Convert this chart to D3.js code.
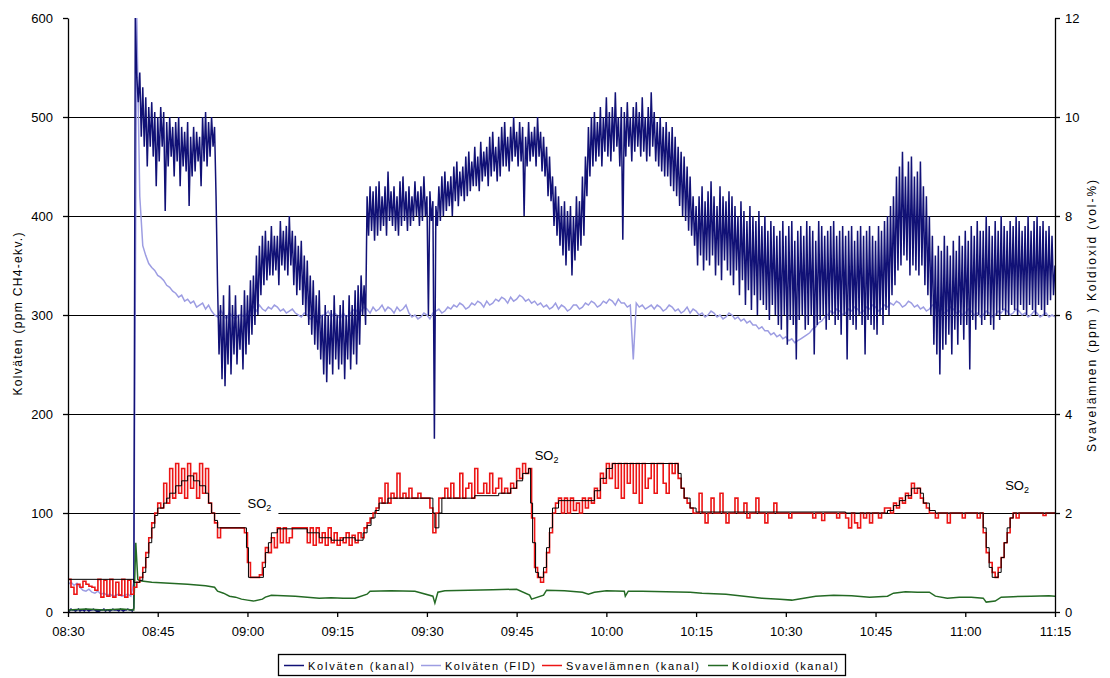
<!DOCTYPE html>
<html>
<head>
<meta charset="utf-8">
<script src="https://cdn.jsdelivr.net/npm/d3@7"></script>
<style>
  body { margin: 0; background: #fff; }
  svg { display: block; font-family: "Liberation Sans", Arial, sans-serif; }
</style>
</head>
<body>
<svg id="chart" width="1110" height="678"></svg>
<script>
// ---- axis ticks and legend ----
const timeTicks = ["08:30","08:45","09:00","09:15","09:30","09:45","10:00","10:15","10:30","10:45","11:00","11:15"];
const leftTicks = [0, 100, 200, 300, 400, 500, 600];
const rightTicks = [0, 2, 4, 6, 8, 10, 12];
const seriesNames = ["Kolväten (kanal)", "Kolväten (FID)", "Svavelämnen (kanal)", "Koldioxid (kanal)"];

// ---- Kolväten (kanal), ppm CH4-ekv., one reading every 15 s from 08:30:00 ----
const hcKanal = [
  // 08:30
  2,1,3,2, 2,1,2,3, 1,2,2,1, 3,2,1,2, 2,3,2,1,
  // 08:35
  2,1,2,2, 3,1,2,2, 1,2,3,2, 2,2,1,3, 2,1,2,2,
  // 08:40
  3,2,2,1, 4,600,540,515, 545,480,530,470, 520,450,510,470, 515,460,505,430,
  // 08:45
  500,455,510,470, 505,405,495,450, 500,460,490,440, 495,455,500,430, 490,450,485,445,
  // 08:50
  495,410,480,440, 490,445,485,455, 480,430,500,455, 505,450,495,460, 500,470,490,420,
  // 08:55
  330,260,310,235, 320,228,300,250, 330,240,310,260, 320,250,300,265, 310,245,325,260,
  // 09:00
  320,270,335,280, 340,290,360,300, 370,320,380,330, 385,335,375,340, 390,340,380,345,
  // 09:05
  380,330,395,350, 385,345,390,340, 400,350,385,330, 380,320,370,325, 375,310,360,300,
  // 09:10
  355,290,340,280, 335,270,320,265, 325,255,300,240, 310,232,300,250, 305,240,320,255,
  // 09:15
  300,245,310,250, 315,235,300,255, 320,245,310,260, 325,250,330,270, 340,300,330,290,
  // 09:20
  420,380,430,385, 425,375,430,380, 435,385,420,390, 430,380,445,395, 425,390,430,385,
  // 09:25
  420,380,435,390, 440,395,425,385, 430,390,420,395, 435,400,425,390, 430,395,440,400,
  // 09:30
  420,300,425,395, 415,175,410,390, 430,395,440,400, 445,405,435,410, 440,400,450,415,
  // 09:35
  455,410,445,420, 450,415,460,420, 465,425,455,430, 470,430,460,425, 475,435,465,440,
  // 09:40
  470,430,480,440, 485,445,470,435, 480,440,490,450, 495,450,480,445, 490,455,500,460,
  // 09:45
  485,450,495,455, 490,400,480,450, 495,455,485,460, 490,450,500,460, 485,445,480,440,
  // 09:50
  470,420,460,415, 440,390,430,380, 420,370,410,360, 415,350,405,365, 410,340,400,355,
  // 09:55
  420,365,415,370, 440,380,460,420, 490,440,500,450, 505,455,495,460, 510,450,500,465,
  // 10:00
  520,460,505,455, 510,465,525,470, 500,450,510,376, 505,460,515,470, 500,455,510,465,
  // 10:05
  515,470,505,460, 520,465,500,455, 510,460,525,470, 505,455,495,450, 500,445,490,440,
  // 10:10
  495,440,485,430, 490,425,480,420, 470,410,465,400, 460,395,450,385, 440,380,420,370,
  // 10:15
  410,350,420,360, 430,345,415,355, 425,350,435,360, 420,340,410,350, 430,335,420,355,
  // 10:20
  415,345,425,340, 420,330,410,345, 400,320,415,335, 405,310,395,325, 410,305,400,320,
  // 10:25
  395,300,405,315, 390,310,400,305, 385,295,395,310, 390,300,380,290, 385,285,395,300,
  // 10:30
  380,270,390,295, 395,290,375,255, 385,295,390,300, 380,285,395,290, 390,300,385,260,
  // 10:35
  375,290,395,295, 390,300,380,285, 385,295,390,300, 395,290,380,295, 385,280,390,300,
  // 10:40
  380,255,385,295, 390,290,375,285, 385,300,390,290, 380,260,385,295, 390,290,380,285,
  // 10:45
  375,280,390,300, 385,290,395,305, 400,300,410,320, 420,330,440,345, 450,350,465,360,
  // 10:50
  440,355,455,340, 460,350,440,345, 445,340,455,350, 430,330,420,320, 400,300,380,270,
  // 10:55
  360,260,370,240, 365,265,380,270, 370,280,360,260, 375,285,365,270, 380,290,370,275,
  // 11:00
  385,290,375,245, 390,295,380,285, 395,300,385,290, 385,295,400,300, 390,290,380,285,
  // 11:05
  395,300,385,295, 400,305,390,300, 385,300,395,310, 390,305,400,300, 395,310,385,305,
  // 11:10
  390,300,400,310, 385,305,395,300, 400,310,390,305, 395,300,385,310, 390,315,380,320,
  // 11:15
  350
];

// ---- Kolväten (FID), ppm CH4-ekv., one reading every 30 s from 08:30:00 ----
const hcFid = [
  28,30, 27,29, 25,22, 21,23, 20,19,          // 08:30
  21,18, 19,17, 18,16, 17,18, 16,17,          // 08:35
  18,16, 30,600, 420,370, 360,352, 348,345,   // 08:40
  340,338, 335,330, 328,324, 322,318, 320,314,// 08:45
  316,312, 314,308, 310,312, 306,310, 304,300,// 08:50
  298,305, 300,296, 302,298, 296,300, 300,298,// 08:55
  302,306, 308,304, 310,306, 304,308, 306,310,// 09:00
  308,304, 306,302, 304,306, 302,300, 298,302,// 09:05
  300,296, 298,300, 296,300, 300,304, 298,302,// 09:10
  300,296, 302,298, 300,304, 306,302, 304,308,// 09:15
  306,302, 308,304, 306,310, 304,308, 306,302,// 09:20
  308,304, 306,310, 302,298, 300,296, 298,302,// 09:25
  300,296, 302,304, 306,302, 304,308, 306,310,// 09:30
  308,312, 310,306, 308,312, 310,314, 312,308,// 09:35
  314,310, 312,316, 314,318, 316,312, 318,314,// 09:40
  316,320, 318,314, 316,312, 314,310, 312,308,// 09:45
  310,306, 308,312, 306,310, 308,304, 306,310,// 09:50
  310,306, 308,312, 310,314, 312,308, 310,314,// 09:55
  312,316, 314,310, 316,312, 312,308, 310,255,// 10:00
  312,308, 310,306, 308,310, 306,310, 308,304,// 10:05
  306,310, 308,304, 306,302, 304,308, 302,306,// 10:10
  304,300, 302,298, 300,304, 302,298, 300,296,// 10:15
  298,302, 300,296, 298,294, 296,292, 294,290,// 10:20
  290,286, 288,284, 284,280, 282,278, 280,276,// 10:25
  278,274, 276,272, 274,276, 278,280, 282,286,// 10:30
  288,292, 294,298, 300,304, 302,306, 304,300,// 10:35
  302,306, 304,308, 306,302, 304,308, 306,310,// 10:40
  308,304, 306,310, 308,312, 310,314, 312,308,// 10:45
  310,314, 312,308, 310,306, 308,304, 306,310,// 10:50
  308,304, 306,302, 304,308, 306,302, 304,300,// 10:55
  302,306, 304,300, 302,298, 300,304, 302,298,// 11:00
  300,304, 302,306, 304,300, 302,306, 304,300,// 11:05
  302,298, 300,304, 302,298, 300,302, 298,300,// 11:10
  298                                         // 11:15
];

// ---- Svavelämnen (kanal), ppm, one reading every 30 s from 08:30:00 ----
const so2Kanal = [
  0.66,0.5, 0.36,0.56, 0.5,0.62, 0.56,0.52, 0.5,0.44,   // 08:30
  0.66,0.3, 0.64,0.32, 0.66,0.3, 0.6,0.34, 0.66,0.3,    // 08:35
  0.64,0.36, 0.5,0.6, 0.7,0.9, 1.2,1.5, 1.8,2.0,        // 08:40
  2.2,2.1, 2.6,2.2, 2.9,2.3, 3.0,2.4, 2.9,2.3,          // 08:45
  3.0,2.5, 2.8,2.3, 3.0,2.4, 2.9,2.2, 2.0,1.8,          // 08:50
  1.5,1.7, 1.7,1.7, 1.7,1.7, 1.7,1.7, 1.7,1.6,          // 08:55
  1.0,0.7, 0.7,0.7, 0.75,1.0, 1.3,1.2, 1.5,1.3,         // 09:00
  1.7,1.4, 1.7,1.4, 1.5,1.7, 1.7,1.7, 1.7,1.7,          // 09:05
  1.4,1.7, 1.35,1.7, 1.4,1.6, 1.35,1.7, 1.4,1.6,        // 09:10
  1.35,1.5, 1.4,1.6, 1.35,1.55, 1.4,1.6, 1.5,1.7,       // 09:15
  1.8,1.9, 2.0,2.1, 2.3,2.2, 2.6,2.2, 2.4,2.3,          // 09:20
  2.8,2.3, 2.4,2.3, 2.5,2.3, 2.3,2.4, 2.3,2.3,          // 09:25
  2.3,2.1, 1.6,2.0, 2.3,2.3, 2.5,2.3, 2.6,2.3,          // 09:30
  2.3,2.8, 2.3,2.5, 2.6,2.3, 2.9,2.4, 2.4,2.6,          // 09:35
  2.4,2.8, 2.4,2.5, 2.7,2.4, 2.5,2.4, 2.6,2.5,          // 09:40
  2.9,2.7, 3.0,2.8, 2.9,1.9, 0.9,0.7, 0.6,0.8,          // 09:45
  1.2,1.6, 2.0,2.2, 2.3,2.0, 2.3,2.0, 2.3,2.05,         // 09:50
  2.2,2.0, 2.3,2.1, 2.3,2.2, 2.5,2.3, 2.8,2.6,          // 09:55
  3.0,2.7, 3.0,2.5, 3.0,2.3, 3.0,2.6, 3.0,2.4,          // 10:00
  3.0,2.2, 3.0,2.5, 2.7,3.0, 2.4,3.0, 3.0,2.6,          // 10:05
  2.4,3.0, 2.8,3.0, 2.7,2.5, 2.3,2.2, 2.1,2.0,          // 10:10
  2.0,2.4, 2.0,1.8, 2.0,2.3, 2.0,2.0, 2.4,2.0,          // 10:15
  1.8,2.0, 2.0,2.3, 2.0,2.0, 2.2,1.9, 2.0,2.0,          // 10:20
  2.3,2.0, 2.0,1.8, 2.0,2.0, 2.2,2.0, 2.0,2.0,          // 10:25
  2.0,1.9, 2.0,2.0, 2.0,2.0, 2.0,2.0, 2.0,1.9,          // 10:30
  2.0,2.0, 1.85,2.0, 2.0,2.0, 2.0,1.9, 2.0,2.0,         // 10:35
  1.9,1.7, 2.0,1.8, 1.7,2.0, 1.9,2.0, 1.8,2.0,          // 10:40
  2.0,1.9, 2.0,2.1, 2.1,2.0, 2.2,2.1, 2.3,2.2,          // 10:45
  2.4,2.3, 2.6,2.4, 2.5,2.3, 2.2,2.1, 2.0,2.0,          // 10:50
  1.9,2.0, 2.0,2.0, 1.8,2.0, 2.0,2.0, 2.0,1.9,          // 10:55
  2.0,2.0, 2.0,2.0, 1.9,2.0, 1.6,1.2, 1.0,0.8,          // 11:00
  0.7,0.9, 1.1,1.4, 1.6,1.9, 2.0,1.9, 2.0,2.0,          // 11:05
  2.0,2.0, 2.0,2.0, 2.0,2.0, 1.95,2.0, 2.0,2.0,         // 11:10
  2.0                                                   // 11:15
];

// ---- Svavelämnen, averaged reference steps (time, ppm) ----
const so2Ref = [
  ["08:30:00",0.66],["08:41:00",0.6],["08:42:00",0.64],["08:42:30",0.8],["08:43:00",1.1],
  ["08:43:30",1.4],["08:44:00",1.7],["08:44:30",1.95],["08:45:00",2.1],["08:46:00",2.2],
  ["08:46:30",2.3],["08:47:00",2.4],["08:48:00",2.55],["08:49:00",2.65],["08:50:00",2.75],
  ["08:51:00",2.65],["08:52:00",2.55],["08:53:00",2.4],["08:53:30",2.2],["08:54:00",2.0],
  ["08:54:30",1.85],["08:55:00",1.7],["08:59:50",1.3],["09:00:10",0.7],["09:02:40",0.9],
  ["09:03:00",1.2],["09:03:30",1.4],["09:04:00",1.6],["09:05:00",1.68],["09:10:00",1.6],
  ["09:12:00",1.5],["09:14:00",1.45],["09:16:00",1.5],["09:18:00",1.45],["09:19:20",1.6],
  ["09:20:00",1.75],["09:20:40",1.9],["09:21:20",2.05],["09:22:00",2.2],["09:23:30",2.3],
  ["09:31:00",2.0],["09:31:20",1.7],["09:32:00",2.0],["09:32:30",2.3],["09:38:00",2.35],
  ["09:42:00",2.4],["09:44:00",2.5],["09:45:00",2.65],["09:46:00",2.8],["09:47:00",2.9],
  ["09:47:20",2.2],["09:47:40",1.4],["09:48:10",0.8],["09:48:40",0.7],["09:49:30",0.9],
  ["09:50:00",1.3],["09:50:30",1.7],["09:51:00",2.1],["09:52:00",2.25],["09:58:00",2.45],
  ["09:59:00",2.7],["10:00:00",2.9],["10:01:00",3.0],["10:12:00",2.8],["10:12:30",2.5],
  ["10:13:00",2.3],["10:14:00",2.1],["10:15:00",2.02],["10:40:00",2.0],["10:47:00",2.05],
  ["10:48:00",2.15],["10:49:00",2.25],["10:50:00",2.35],["10:51:00",2.5],["10:52:30",2.4],
  ["10:53:00",2.2],["10:54:00",2.05],["10:55:00",2.0],["11:03:00",1.7],["11:03:30",1.3],
  ["11:04:00",0.9],["11:04:30",0.7],["11:05:30",0.8],["11:06:00",1.1],["11:06:30",1.4],
  ["11:07:00",1.7],["11:07:30",1.9],["11:08:00",2.0],["11:15:00",2.0]
];

// ---- Koldioxid (kanal), vol-% (time, value) ----
const co2Kanal = [
  ["08:30:00",0.04],["08:33:00",0.06],["08:36:00",0.04],["08:39:00",0.06],["08:41:00",0.04],
  ["08:41:20",1.4],["08:41:40",0.66],["08:42:00",0.63],["08:44:00",0.6],["08:47:00",0.58],
  ["08:50:00",0.56],["08:53:00",0.53],["08:54:30",0.5],["08:55:00",0.42],["08:56:00",0.38],
  ["08:57:00",0.32],["08:58:00",0.3],["08:59:00",0.26],["09:00:00",0.24],["09:01:00",0.22],
  ["09:02:30",0.26],["09:03:00",0.3],["09:04:00",0.34],["09:06:00",0.33],["09:08:00",0.32],
  ["09:10:00",0.3],["09:12:00",0.28],["09:14:00",0.29],["09:16:00",0.28],["09:18:00",0.28],
  ["09:20:00",0.36],["09:20:30",0.42],["09:24:00",0.43],["09:28:00",0.42],["09:31:00",0.32],
  ["09:31:20",0.18],["09:31:50",0.4],["09:33:00",0.43],["09:37:00",0.44],["09:41:00",0.45],
  ["09:45:00",0.46],["09:47:10",0.34],["09:47:30",0.26],["09:49:30",0.34],["09:50:00",0.44],
  ["09:53:00",0.43],["09:56:00",0.4],["09:57:00",0.36],["09:58:00",0.4],["10:00:00",0.43],
  ["10:03:00",0.42],["10:03:10",0.32],["10:03:40",0.42],["10:06:00",0.42],["10:10:00",0.41],
  ["10:14:00",0.4],["10:16:00",0.38],["10:20:00",0.36],["10:23:00",0.32],["10:26:00",0.28],
  ["10:29:00",0.26],["10:31:00",0.24],["10:33:00",0.28],["10:35:00",0.32],["10:38:00",0.34],
  ["10:41:00",0.33],["10:44:00",0.3],["10:47:00",0.32],["10:48:00",0.38],["10:50:00",0.41],
  ["10:52:00",0.4],["10:54:00",0.4],["10:55:00",0.32],["10:57:00",0.28],["10:59:00",0.3],
  ["11:01:00",0.3],["11:03:00",0.28],["11:03:30",0.2],["11:05:00",0.22],["11:06:00",0.3],
  ["11:08:00",0.31],["11:11:00",0.32],["11:14:00",0.33],["11:15:00",0.32]
];

// ---- SO2 annotations (time, ppm on the right axis) ----
const so2Notes = [["09:02:00",2.2],["09:50:00",3.17],["11:08:40",2.57]];

// ================= drawing =================
const colors = { hc: "#111176", fid: "#9d9de2", so2: "#ec1515", ref: "#000000", co2: "#246a24" };
const plot = { left: 68, right: 1055, top: 18, bottom: 612 };

const parseHMS = d3.timeParse("%H:%M:%S");
const parseHM = d3.timeParse("%H:%M");

const x = d3.scaleTime()
  .domain([parseHM(timeTicks[0]), parseHM(timeTicks[timeTicks.length - 1])])
  .range([plot.left, plot.right]);
const yL = d3.scaleLinear().domain([0, 600]).range([plot.bottom, plot.top]);
const yR = d3.scaleLinear().domain([0, 12]).range([plot.bottom, plot.top]);

// regularly sampled readings -> {t, v}
const sampled = (vals, start, stepSec) =>
  vals.map((v, i) => ({ t: d3.timeSecond.offset(parseHMS(start), i * stepSec), v }));
const stamped = rows => rows.map(([t, v]) => ({ t: parseHMS(t), v }));

const svg = d3.select("#chart");

svg.append("defs").append("clipPath").attr("id", "plotClip")
  .append("rect")
  .attr("x", plot.left).attr("y", plot.top - 1)
  .attr("width", plot.right - plot.left).attr("height", plot.bottom - plot.top + 1);

// horizontal grid lines
svg.append("g")
  .selectAll("line")
  .data(leftTicks.filter(d => d > 0 && d < 600))
  .join("line")
  .attr("x1", plot.left).attr("x2", plot.right)
  .attr("y1", d => Math.round(yL(d)) + 0.5).attr("y2", d => Math.round(yL(d)) + 0.5)
  .attr("stroke", "#000").attr("stroke-width", 1.2);

const data = svg.append("g").attr("clip-path", "url(#plotClip)");

const lineL = d3.line().x(d => x(d.t)).y(d => yL(d.v));
const lineR = d3.line().x(d => x(d.t)).y(d => yR(d.v));
const stepR = d3.line().x(d => x(d.t)).y(d => yR(d.v)).curve(d3.curveStepAfter);

data.append("path").datum(sampled(hcFid, "08:30:00", 30))
  .attr("d", lineL).attr("fill", "none")
  .attr("stroke", colors.fid).attr("stroke-width", 1.5);

data.append("path").datum(sampled(hcKanal, "08:30:00", 15))
  .attr("d", lineL).attr("fill", "none")
  .attr("stroke", colors.hc).attr("stroke-width", 1.5).attr("stroke-linejoin", "miter");

data.append("path").datum(stamped(co2Kanal))
  .attr("d", lineR).attr("fill", "none")
  .attr("stroke", colors.co2).attr("stroke-width", 1.5);

data.append("path").datum(sampled(so2Kanal, "08:30:00", 30))
  .attr("d", stepR).attr("fill", "none")
  .attr("stroke", colors.so2).attr("stroke-width", 1.6);

data.append("path").datum(stamped(so2Ref))
  .attr("d", stepR).attr("fill", "none")
  .attr("stroke", colors.ref).attr("stroke-width", 1);

// SO2 annotations with white backing
const notes = svg.append("g");
so2Notes.forEach(([t, v]) => {
  const cx = x(parseHMS(t)), cy = yR(v);
  notes.append("rect")
    .attr("x", cx - 19).attr("y", cy - 10).attr("width", 38).attr("height", 22)
    .attr("fill", "#fff");
  const txt = notes.append("text")
    .attr("x", cx).attr("y", cy + 5)
    .attr("text-anchor", "middle")
    .attr("font-size", 13).attr("fill", "#000");
  txt.append("tspan").text("SO");
  txt.append("tspan").attr("font-size", 9).attr("dy", 3).text("2");
});

// axes
const fmtTime = d3.timeFormat("%H:%M");

const xAxis = svg.append("g")
  .attr("transform", `translate(0,${plot.bottom})`)
  .call(d3.axisBottom(x)
    .tickValues(timeTicks.map(parseHM))
    .tickFormat(fmtTime)
    .tickSize(5).tickSizeOuter(0).tickPadding(10));

const leftAxis = svg.append("g")
  .attr("transform", `translate(${plot.left},0)`)
  .call(d3.axisLeft(yL).tickValues(leftTicks).tickSize(5).tickSizeOuter(0).tickPadding(10));

const rightAxis = svg.append("g")
  .attr("transform", `translate(${plot.right},0)`)
  .call(d3.axisRight(yR).tickValues(rightTicks).tickSize(5).tickSizeOuter(0).tickPadding(5));

[xAxis, leftAxis, rightAxis].forEach(g => {
  g.selectAll("path.domain").attr("stroke", "#000").attr("stroke-width", 1.3);
  g.selectAll(".tick line").attr("stroke", "#000").attr("stroke-width", 1.3);
  g.selectAll("text")
    .attr("fill", "#000")
    .attr("font-size", 13)
    .attr("font-family", "'Liberation Sans', Arial, sans-serif");
});

// axis titles
svg.append("text")
  .attr("transform", "translate(22,314) rotate(-90)")
  .attr("text-anchor", "middle")
  .attr("font-size", 12).attr("fill", "#000")
  .attr("textLength", 163).attr("lengthAdjust", "spacing")
  .text("Kolväten (ppm CH4-ekv.)");

svg.append("text")
  .attr("transform", "translate(1096,316) rotate(-90)")
  .attr("text-anchor", "middle")
  .attr("font-size", 12).attr("fill", "#000")
  .attr("textLength", 272).attr("lengthAdjust", "spacing")
  .text("Svavelämnen (ppm )  Koldioxid (vol-%)");

// legend
const legend = svg.append("g");
legend.append("rect")
  .attr("x", 278.5).attr("y", 654.5).attr("width", 567).attr("height", 21)
  .attr("fill", "#fff").attr("stroke", "#000").attr("stroke-width", 1.3);

const legendItems = [
  { name: seriesNames[0], color: colors.hc,  x: 284, w: 106 },
  { name: seriesNames[1], color: colors.fid, x: 421, w: 90 },
  { name: seriesNames[2], color: colors.so2, x: 542, w: 133 },
  { name: seriesNames[3], color: colors.co2, x: 708, w: 106 }
];
legendItems.forEach(it => {
  legend.append("line")
    .attr("x1", it.x).attr("x2", it.x + 20)
    .attr("y1", 665.5).attr("y2", 665.5)
    .attr("stroke", it.color).attr("stroke-width", 1.5);
  legend.append("text")
    .attr("x", it.x + 24).attr("y", 669.5)
    .attr("font-size", 11).attr("fill", "#000")
    .attr("textLength", it.w).attr("lengthAdjust", "spacing")
    .text(it.name);
});
</script>
</body>
</html>
